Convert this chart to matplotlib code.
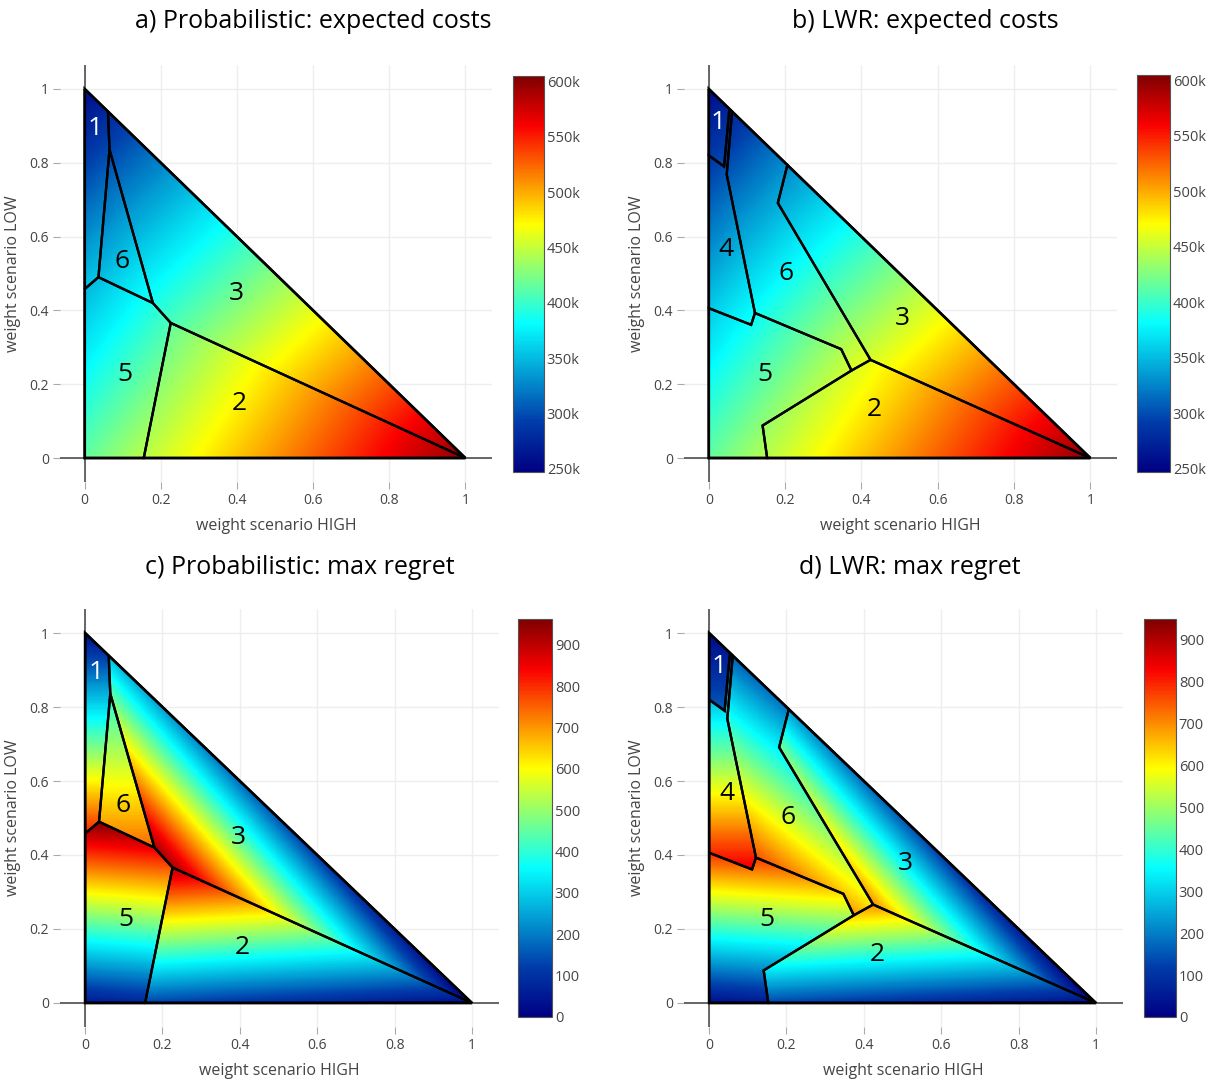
import numpy as np
import matplotlib
matplotlib.use('Agg')
import matplotlib.pyplot as plt
from matplotlib.colors import LinearSegmentedColormap
from matplotlib.path import Path
from matplotlib.patches import Polygon

plt.rcParams['font.family'] = ['Open Sans', 'DejaVu Sans']

# region outlines as (weight HIGH, weight LOW) vertices
prob_regions = {
    1: [(0, 1), (0.061, 0.939), (0.065, 0.836), (0.036, 0.49), (0, 0.458)],
    6: [(0.065, 0.836), (0.179, 0.42), (0.036, 0.49)],
    3: [(0.061, 0.939), (1, 0), (0.226, 0.366), (0.179, 0.42), (0.065, 0.836)],
    5: [(0, 0.458), (0.036, 0.49), (0.179, 0.42), (0.226, 0.366), (0.155, 0), (0, 0)],
    2: [(0.155, 0), (0.226, 0.366), (1, 0)],
}
lwr_regions = {
    1: [(0, 1), (0.054, 0.946), (0.040, 0.79), (0, 0.82)],
    4: [(0, 0.82), (0.040, 0.79), (0.054, 0.946), (0.061, 0.939), (0.047, 0.768),
        (0.121, 0.393), (0.111, 0.361), (0, 0.406)],
    6: [(0.061, 0.939), (0.206, 0.794), (0.181, 0.691), (0.424, 0.266), (0.374, 0.237),
        (0.347, 0.295), (0.121, 0.393), (0.047, 0.768)],
    5: [(0, 0.406), (0.111, 0.361), (0.121, 0.393), (0.347, 0.295), (0.374, 0.237),
        (0.141, 0.088), (0.153, 0), (0, 0)],
    2: [(0.153, 0), (0.141, 0.088), (0.374, 0.237), (0.424, 0.266), (1, 0)],
    3: [(0.206, 0.794), (1, 0), (0.424, 0.266), (0.181, 0.691)],
}

# option values under scenario LOW / MID / HIGH
cost_k = {1: [255, 440, 640], 2: [300, 418, 600], 3: [256, 432, 600],
          4: [256, 425, 630], 5: [270, 415, 615], 6: [255, 428, 620]}
regret_prob = {1: [30, 1470, 1470], 2: [2300, 150, 30], 3: [300, 2000, 0],
               5: [1900, 50, 200], 6: [250, 1100, 1100]}
regret_lwr = {1: [20, 700, 700], 2: [2400, 150, 30], 3: [300, 2000, 0],
              4: [50, 1300, 1300], 5: [1900, 30, 150], 6: [150, 1350, 350]}

# region number positions
prob_labels = {1: (0.028, 0.894), 6: (0.098, 0.533), 3: (0.397, 0.447),
               5: (0.105, 0.226), 2: (0.407, 0.149)}
lwr_labels = {1: (0.025, 0.91), 4: (0.045, 0.565), 6: (0.203, 0.501),
              3: (0.508, 0.377), 5: (0.148, 0.226), 2: (0.434, 0.131)}

titles = ['a) Probabilistic: expected costs', 'b) LWR: expected costs',
          'c) Probabilistic: max regret', 'd) LWR: max regret']

jet = LinearSegmentedColormap.from_list('plotly_jet', [
    (0.0, (0 / 255, 0 / 255, 131 / 255)),
    (0.125, (0 / 255, 60 / 255, 170 / 255)),
    (0.375, (5 / 255, 255 / 255, 255 / 255)),
    (0.625, (255 / 255, 255 / 255, 0 / 255)),
    (0.875, (250 / 255, 0 / 255, 0 / 255)),
    (1.0, (128 / 255, 0 / 255, 0 / 255)),
])

N = 700
g = (np.arange(N) + 0.5) / N
X, Y = np.meshgrid(g, g)
pts = np.column_stack([X.ravel(), Y.ravel()])


def field(regions, table, scale=1.0):
    Z = np.full(X.size, np.nan)
    for opt, poly in regions.items():
        inside = Path(poly).contains_points(pts) & np.isnan(Z)
        wh, wl = pts[inside, 0], pts[inside, 1]
        v = table[opt]
        Z[inside] = (wl * v[0] + (1 - wl - wh) * v[1] + wh * v[2]) * scale
    return np.ma.masked_invalid(Z.reshape(X.shape))


W, H = 1210, 1082
fig = plt.figure(figsize=(W / 100, H / 100), dpi=100)


def px_axes(l, t, r, b):
    return fig.add_axes([l / W, 1 - b / H, (r - l) / W, (b - t) / H])


panels = [
    (prob_regions, cost_k, 1000, prob_labels, (60, 65, 492, 482), (513, 76, 544, 472),
     (247000, 605000), np.arange(250000, 600001, 50000), (313, 22)),
    (lwr_regions, cost_k, 1000, lwr_labels, (684, 65, 1117, 482), (1137, 75, 1170, 472),
     (247000, 605000), np.arange(250000, 600001, 50000), (925, 22)),
    (prob_regions, regret_prob, 1, prob_labels, (60, 609, 499, 1027), (518, 619, 552, 1017),
     (0, 962), np.arange(0, 901, 100), (300, 568)),
    (lwr_regions, regret_lwr, 1, lwr_labels, (684, 609, 1123, 1027), (1144, 619, 1176, 1017),
     (0, 950), np.arange(0, 901, 100), (910, 568)),
]

ticks = [0, 0.2, 0.4, 0.6, 0.8, 1]
ticklabels = ['0', '0.2', '0.4', '0.6', '0.8', '1']

for i, (regions, table, scale, labels, abox, cbox, lims, cticks, tpos) in enumerate(panels):
    ax = px_axes(*abox)
    Z = field(regions, table, scale)
    im = ax.imshow(Z, extent=[0, 1, 0, 1], origin='lower', cmap=jet, vmin=lims[0],
                   vmax=lims[1], aspect='auto', interpolation='nearest', zorder=2)
    tri = Polygon([(0, 0), (1, 0), (0, 1)], closed=True, transform=ax.transData)
    im.set_clip_path(tri)

    for opt, poly in regions.items():
        ax.add_patch(Polygon(poly, closed=True, fill=False, ec='black', lw=1.7, zorder=4))
    ax.add_patch(Polygon([(0, 0), (1, 0), (0, 1)], closed=True, fill=False,
                         ec='black', lw=1.9, zorder=5))
    for opt, (lx, ly) in labels.items():
        ax.text(lx, ly, str(opt), fontsize=19, ha='center', va='center',
                color='white' if opt == 1 else 'black', zorder=6)

    ax.axhline(0, color='#666666', lw=1.4, zorder=1)
    ax.axvline(0, color='#666666', lw=1.4, zorder=1)
    ax.set_xlim(-0.065, 1.07)
    ax.set_ylim(-0.065, 1.065)
    ax.set_xticks(ticks)
    ax.set_xticklabels(ticklabels)
    ax.set_yticks(ticks)
    ax.set_yticklabels(ticklabels)
    ax.grid(color='#eeeeee', lw=1, zorder=0)
    ax.set_axisbelow(True)
    for s in ax.spines.values():
        s.set_visible(False)
    ax.tick_params(direction='out', length=5, color='#aaaaaa', labelcolor='#444444',
                   labelsize=10, pad=3)
    ax.set_xlabel('weight scenario HIGH', fontsize=11.5, color='#444444', labelpad=7)
    ax.set_ylabel('weight scenario LOW', fontsize=11.5, color='#444444', labelpad=6)

    cax = px_axes(*cbox)
    cb = fig.colorbar(im, cax=cax)
    cb.set_ticks(cticks)
    if scale == 1000:
        cb.set_ticklabels(['%dk' % (v // 1000) for v in cticks])
    cb.ax.tick_params(length=0, labelsize=10.5, labelcolor='#444444', pad=2)
    cb.outline.set_edgecolor('#555555')
    cb.outline.set_linewidth(0.8)

    fig.text(tpos[0] / W, 1 - tpos[1] / H, titles[i], fontsize=18, ha='center',
             va='center', color='black')

fig.savefig('out.png', dpi=100)
